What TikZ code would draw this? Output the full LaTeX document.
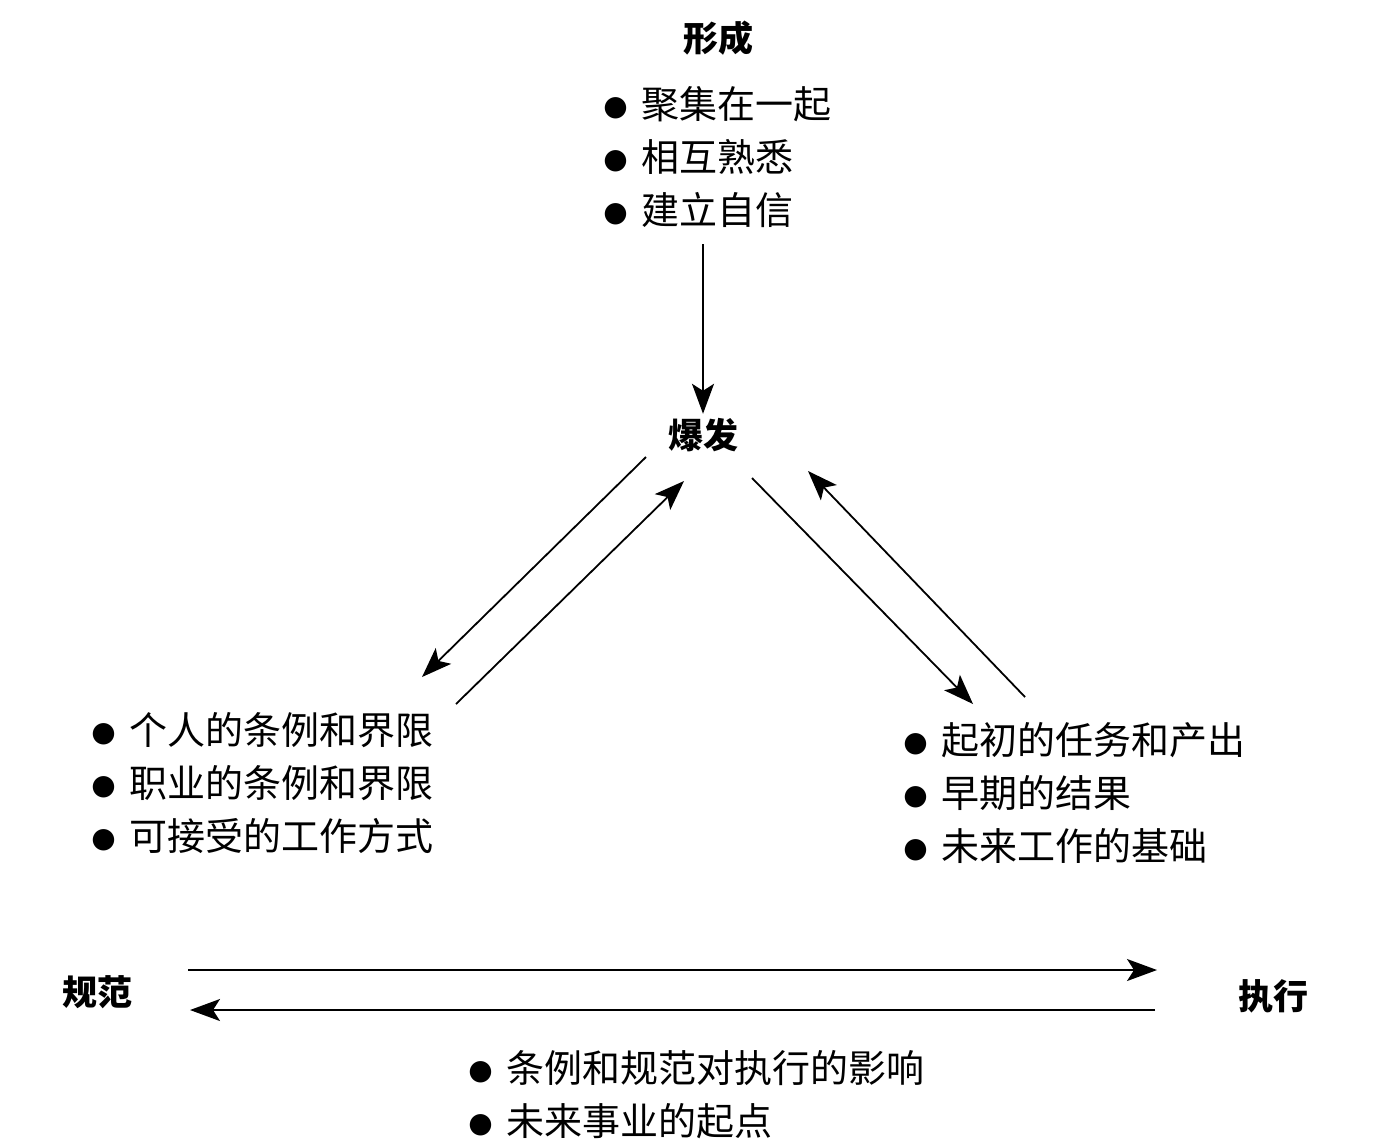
\documentclass[tikz,border=0pt]{standalone}
\usepackage{fontspec}
\setmainfont{Noto Sans CJK SC}
\newfontfamily\dotfont{DejaVu Sans}
\usetikzlibrary{positioning, arrows.meta}
\newcommand{\bul}{\raisebox{1.5pt}{\dotfont\fontsize{14}{14}\selectfont ●}\hspace{7pt}}

\begin{document}
\begin{tikzpicture}[x=0.5pt, y=-0.5pt, >={Stealth[length=15pt, width=11pt, inset=3.5pt]}]
    \tikzstyle{head} = [font=\fontsize{17.5}{20}\selectfont\bfseries, inner sep=2pt]
    \tikzstyle{list} = [font=\fontsize{19}{26.5}\selectfont, align=left, inner sep=0pt, anchor=west]
    \tikzstyle{arrow} = [line width=0.9pt, ->]

    \useasboundingbox (0,0) rectangle (1400,1147);

    \node [head] (form) at (718,38) {形成};
    \node [list] (formlist) at (603,157) {\bul 聚集在一起\\\bul 相互熟悉\\\bul 建立自信};
    \node [head] (storm) at (703,435) {爆发};
    \node [list] (normlist) at (91,783) {\bul 个人的条例和界限\\\bul 职业的条例和界限\\\bul 可接受的工作方式};
    \node [list] (perflist) at (903,793) {\bul 起初的任务和产出\\\bul 早期的结果\\\bul 未来工作的基础};
    \node [head] (norm) at (97,992) {规范};
    \node [head] (perform) at (1273,996) {执行};
    \node [list] (endlist) at (468,1095) {\bul 条例和规范对执行的影响\\\bul 未来事业的起点};

    \coordinate (sl1) at (646,457);  \coordinate (nl1) at (422,677);
    \coordinate (nl2) at (456,704);  \coordinate (sl2) at (684,481);
    \coordinate (sr1) at (752,478);  \coordinate (pr1) at (973,704);
    \coordinate (pr2) at (1025,697); \coordinate (sr2) at (808,471);
    \coordinate (nt) at (188,970);   \coordinate (pt) at (1157,970);
    \coordinate (pb) at (1155,1010); \coordinate (nb) at (190,1010);

    \draw [arrow, shorten <=8pt] (storm.north |- formlist.south) -- (storm.north);
    \draw [arrow] (sl1) -- (nl1);
    \draw [arrow] (nl2) -- (sl2);
    \draw [arrow] (sr1) -- (pr1);
    \draw [arrow] (pr2) -- (sr2);
    \draw [arrow] (nt) -- (pt);
    \draw [arrow] (pb) -- (nb);
\end{tikzpicture}
\end{document}
